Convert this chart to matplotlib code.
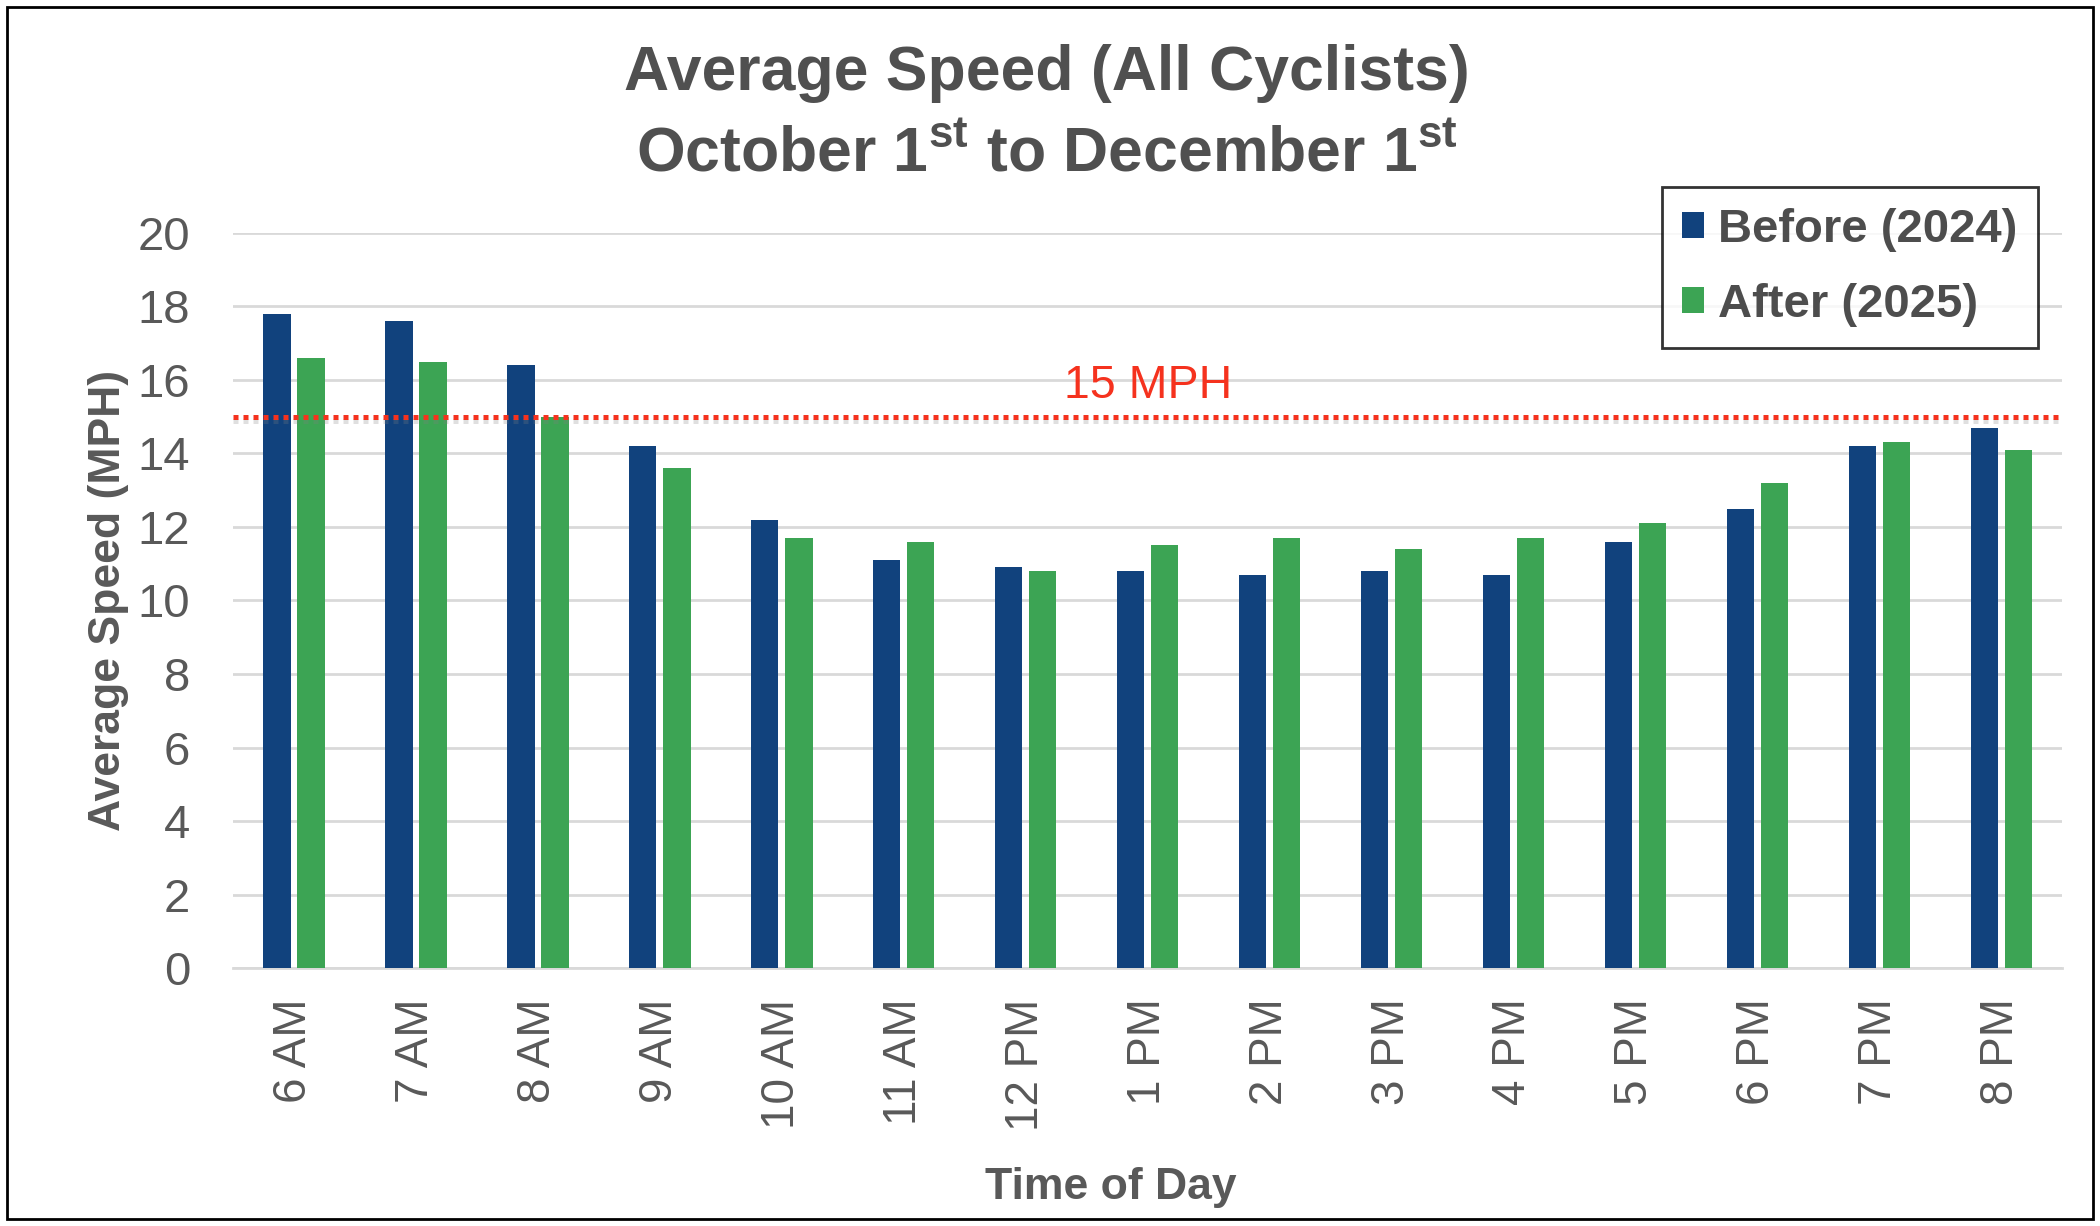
import matplotlib
matplotlib.use("Agg")
import matplotlib.pyplot as plt
import matplotlib.patheffects as pe
from matplotlib.patches import Rectangle
import numpy as np

# data
hours = ['6 AM', '7 AM', '8 AM', '9 AM', '10 AM', '11 AM', '12 PM', '1 PM',
         '2 PM', '3 PM', '4 PM', '5 PM', '6 PM', '7 PM', '8 PM']
before_2024 = [17.8, 17.6, 16.4, 14.2, 12.2, 11.1, 10.9, 10.8,
               10.7, 10.8, 10.7, 11.6, 12.5, 14.2, 14.7]
after_2025 = [16.6, 16.5, 15.0, 13.6, 11.7, 11.6, 10.8, 11.5,
              11.7, 11.4, 11.7, 12.1, 13.2, 14.3, 14.1]
threshold = 15
yticks = [0, 2, 4, 6, 8, 10, 12, 14, 16, 18, 20]

plt.rcParams['font.family'] = ['Liberation Sans', 'DejaVu Sans']
plt.rcParams['mathtext.fontset'] = 'custom'
plt.rcParams['mathtext.rm'] = 'Liberation Sans'
plt.rcParams['mathtext.bf'] = 'Liberation Sans:bold'

blue = '#11427D'
green = '#3CA454'
grey = '#595959'
red = '#F5321E'

fig = plt.figure(figsize=(21, 12.26), dpi=100)
ax = fig.add_axes([0.111, 0.2104, 0.871, 0.5996])

x = np.arange(len(hours))
w = 0.224
off = 0.14
ax.bar(x - off, before_2024, w, color=blue, label='Before (2024)', zorder=3)
ax.bar(x + off, after_2025, w, color=green, label='After (2025)', zorder=3)

ax.set_xlim(-0.5, len(hours) - 0.5)
ax.set_ylim(0, 20)
ax.set_yticks(yticks)
ax.yaxis.grid(True, color='#D9D9D9', linewidth=2, zorder=0)
ax.set_axisbelow(True)
for s in ['top', 'right', 'left']:
    ax.spines[s].set_visible(False)
ax.spines['bottom'].set_color('#D9D9D9')
ax.spines['bottom'].set_linewidth(2)

ax.set_xticks(x)
ax.set_xticklabels(hours, rotation=90)
ax.tick_params(axis='x', length=0, pad=22, labelsize=33, labelcolor=grey)
ax.tick_params(axis='y', length=0, pad=31, labelsize=34, labelcolor=grey)

# 15 mph reference line
ax.axhline(threshold, color=red, linewidth=3.6, linestyle=(0, (1, 1)), zorder=4,
           path_effects=[pe.SimpleLineShadow(offset=(0, -3), shadow_color='grey', alpha=0.25),
                         pe.Normal()])
ax.text(7.0, threshold + 0.25, '15 MPH', color=red, fontsize=33.5, ha='center', va='bottom')

ax.set_ylabel('Average Speed (MPH)', fontsize=32, fontweight='bold', color=grey)
ax.yaxis.set_label_coords(-0.057, 0.5)
ax.set_xlabel('Time of Day', fontsize=32, fontweight='bold', color=grey)
ax.xaxis.set_label_coords(0.48, -0.271)

fig.text(0.4986, 0.94, 'Average Speed (All Cyclists)', fontsize=45, fontweight='bold',
         color='#505050', ha='center', va='center')
fig.text(0.4986, 0.874, r'October 1$^{\mathbf{st}}$ to December 1$^{\mathbf{st}}$', fontsize=45,
         fontweight='bold', color='#505050', ha='center', va='center')

leg = fig.legend(loc='upper right', bbox_to_anchor=(0.9705, 0.8475),
                 prop={'weight': 'bold', 'size': 34}, frameon=True, fancybox=False,
                 handlelength=0.45, handleheight=0.45, handletextpad=0.3,
                 labelspacing=0.66, borderpad=0.44, borderaxespad=0)
leg.get_frame().set_edgecolor('black')
leg.get_frame().set_linewidth(2)
for t in leg.get_texts():
    t.set_color('#4D4D4D')

fig.patches.append(Rectangle((0.0035, 0.006), 0.993, 0.988, transform=fig.transFigure,
                             fill=False, edgecolor='black', linewidth=2))

fig.savefig('out.png', dpi=100)
